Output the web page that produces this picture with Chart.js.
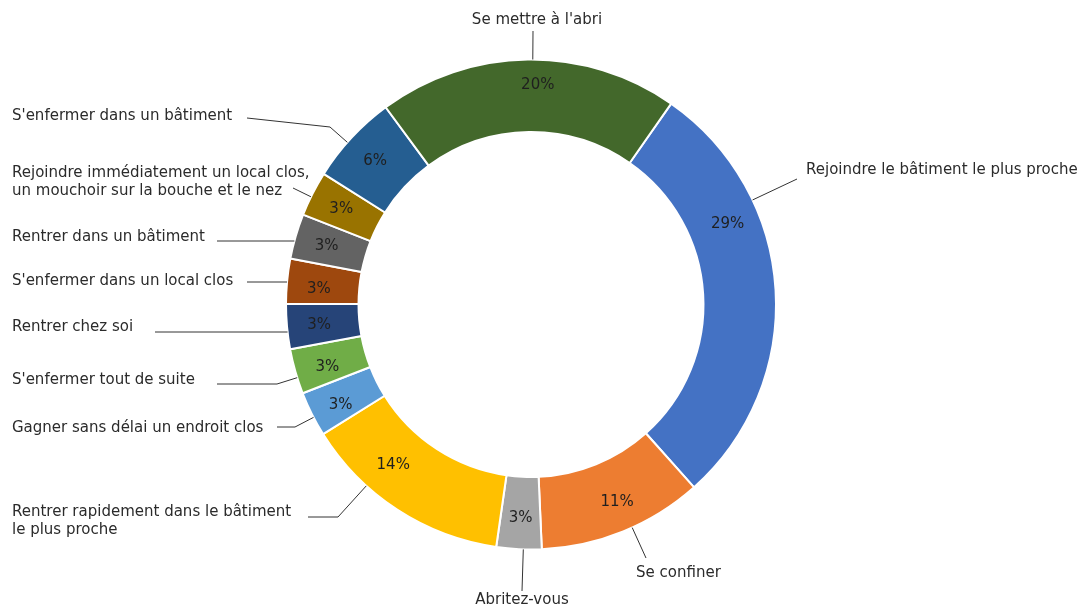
<!DOCTYPE html>
<html>
<head>
<meta charset="utf-8">
<script src="https://cdn.jsdelivr.net/npm/chart.js@4.4.1/dist/chart.umd.min.js"></script>
<style>
html,body{margin:0;padding:0;background:#ffffff;}
#wrap{width:1083px;height:608px;position:relative;}
</style>
</head>
<body>
<div id="wrap"><canvas id="c" width="1083" height="608"></canvas></div>
<script>
// ---- data ----
const categories = [
  "Rejoindre le bâtiment le plus proche",
  "Se confiner",
  "Abritez-vous",
  "Rentrer rapidement dans le bâtiment le plus proche",
  "Gagner sans délai un endroit clos",
  "S'enfermer tout de suite",
  "Rentrer chez soi",
  "S'enfermer dans un local clos",
  "Rentrer dans un bâtiment",
  "Rejoindre immédiatement un local clos, un mouchoir sur la bouche et le nez",
  "S'enfermer dans un bâtiment",
  "Se mettre à l'abri"
];
const percentValues = [29, 11, 3, 14, 3, 3, 3, 3, 3, 3, 6, 20];
const sliceColors = ['#4472C4','#ED7D31','#A5A5A5','#FFC000','#5B9BD5','#70AD47',
                     '#264478','#9E480E','#636363','#997300','#255E91','#43682B'];

// ---- label layout (text anchors and leader starts, canvas px) ----
const labelLayout = [
  {x:806, y:170, align:'left',   start:[797,179]},
  {x:636, y:573, align:'left',   start:[646,558]},
  {x:522, y:600, align:'center', start:[522,591]},
  {x:12,  y:512, align:'left',   start:[308,517], elbow:[338,517], breakAfter:5},
  {x:12,  y:428, align:'left',   start:[277,427], elbow:[295,427]},
  {x:12,  y:380, align:'left',   start:[217,384], elbow:[277,384]},
  {x:12,  y:327, align:'left',   start:[155,332], horizontal:true},
  {x:12,  y:281, align:'left',   start:[247,282], horizontal:true},
  {x:12,  y:237, align:'left',   start:[217,241], horizontal:true},
  {x:12,  y:173, align:'left',   start:[293,188], breakAfter:5},
  {x:12,  y:116, align:'left',   start:[247,118], elbow:[330,127]},
  {x:537, y:20,  align:'center', start:[533,31]}
];
// angular shift (deg) and radial shift (px) of the inner percentage labels
const pctShift  = [-19, -1.5, 0, 7.7, -1, -1, 0, -1, 0, 0, 0, 2.5];
const pctRadial = [0, 2, 0, -2, 2, 0, 0, 0, 0, 0, 0, 8];

const FONT = '15px "DejaVu Sans", Verdana, sans-serif';
const TEXT_COLOR = '#2b2b2b';
const LINE_COLOR = '#333333';

function splitLines(text, breakAfter) {
  if (!breakAfter) return [text];
  const w = text.split(' ');
  return [w.slice(0, breakAfter).join(' '), w.slice(breakAfter).join(' ')];
}

const labelPlugin = {
  id: 'doughnutLabels',
  afterDatasetsDraw(chart) {
    const ctx = chart.ctx;
    const meta = chart.getDatasetMeta(0);
    const values = chart.data.datasets[0].data;
    ctx.save();
    ctx.font = FONT;
    meta.data.forEach((arc, i) => {
      const p = arc.getProps(['x','y','startAngle','endAngle','innerRadius','outerRadius'], true);
      const cx = p.x, cy = p.y, R = p.outerRadius;
      // inside percentage label
      const mid = (p.startAngle + p.endAngle) / 2 + (pctShift[i] || 0) * Math.PI / 180;
      const rl = (p.innerRadius + p.outerRadius) / 2 + 4 + (pctRadial[i] || 0);
      ctx.fillStyle = '#1f1f1f';
      ctx.textAlign = 'center';
      ctx.textBaseline = 'middle';
      ctx.fillText(values[i] + '%', cx + rl * Math.cos(mid), cy + 1 + rl * Math.sin(mid));

      // leader line
      const L = labelLayout[i];
      const clampAngle = (a) => {
        while (a < p.startAngle) a += Math.PI * 2;
        while (a > p.startAngle + Math.PI * 2) a -= Math.PI * 2;
        const m = 0.02;
        if (a < p.startAngle + m || a > p.endAngle - m) {
          const d1 = Math.abs(a - p.startAngle), d2 = Math.abs(a - p.endAngle);
          const d1w = Math.min(d1, Math.PI * 2 - d1), d2w = Math.min(d2, Math.PI * 2 - d2);
          a = d1w < d2w ? p.startAngle + m : p.endAngle - m;
        }
        return a;
      };
      const radial = (px, py) => {
        const a = clampAngle(Math.atan2(py - cy, px - cx));
        return [cx + R * Math.cos(a), cy + R * Math.sin(a)];
      };
      const pts = [L.start];
      let target;
      if (L.horizontal) {
        const dy = L.start[1] - cy;
        const dx = Math.sqrt(Math.max(R * R - dy * dy, 0)) * (L.start[0] < cx ? -1 : 1);
        target = radial(cx + dx, cy + dy);
      } else if (L.elbow) {
        pts.push(L.elbow);
        target = radial(L.elbow[0], L.elbow[1]);
      } else {
        target = radial(L.start[0], L.start[1]);
      }
      pts.push(target);
      ctx.strokeStyle = LINE_COLOR;
      ctx.lineWidth = 1;
      ctx.beginPath();
      ctx.moveTo(pts[0][0], pts[0][1]);
      for (let k = 1; k < pts.length; k++) ctx.lineTo(pts[k][0], pts[k][1]);
      ctx.stroke();

      // outside category label
      ctx.fillStyle = TEXT_COLOR;
      ctx.textAlign = L.align;
      ctx.textBaseline = 'middle';
      const lines = splitLines(chart.data.labels[i], L.breakAfter);
      lines.forEach((ln, k) => ctx.fillText(ln, L.x, L.y + k * 18.5));
    });
    ctx.restore();
  }
};

new Chart(document.getElementById('c'), {
  type: 'doughnut',
  data: {
    labels: categories,
    datasets: [{
      data: percentValues,
      backgroundColor: sliceColors,
      borderColor: '#ffffff',
      borderWidth: 2,
      hoverOffset: 0
    }]
  },
  options: {
    responsive: false,
    animation: false,
    devicePixelRatio: 1,
    rotation: 34.9,
    cutout: '70.4%',
    layout: { padding: { left: 285, right: 306, top: 58.5, bottom: 57.5 } },
    plugins: {
      legend: { display: false },
      tooltip: { enabled: false }
    }
  },
  plugins: [labelPlugin]
});
</script>
</body>
</html>
